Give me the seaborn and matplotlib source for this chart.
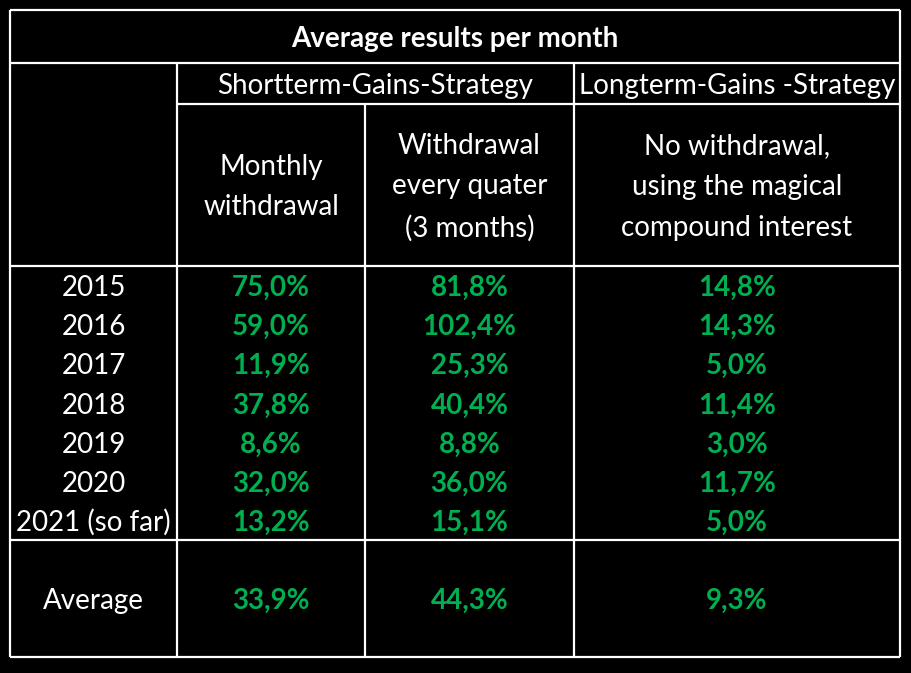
import matplotlib
matplotlib.use("Agg")
import matplotlib.pyplot as plt
import seaborn as sns

# table contents
years = ["2015", "2016", "2017", "2018", "2019", "2020", "2021 (so far)"]
monthly = [75.0, 59.0, 11.9, 37.8, 8.6, 32.0, 13.2]
quarterly = [81.8, 102.4, 25.3, 40.4, 8.8, 36.0, 15.1]
compound = [14.8, 14.3, 5.0, 11.4, 3.0, 11.7, 5.0]
averages = [33.9, 44.3, 9.3]
title = "Average results per month"
strategies = ["Shortterm-Gains-Strategy", "Longterm-Gains -Strategy"]
headers = ["Monthly\nwithdrawal", "Withdrawal\nevery quater\n(3 months)",
           "No withdrawal,\nusing the magical\ncompound interest"]

sns.set_theme(style="dark", rc={"axes.facecolor": "black", "figure.facecolor": "black"})
plt.rcParams['font.family'] = ['Lato', 'DejaVu Sans']

GREEN = "#00b050"
FS = 20
OFF = 10.5  # baseline offset below the cell middle

# grid in pixel units
cols = [10, 177, 365, 574, 900]
top, r_title, r_strat, r_head = 10, 63, 104, 266
r_data_end, bottom = 540, 657
row_h = (r_data_end - r_head) / len(years)

fig = plt.figure(figsize=(9.12, 6.73), dpi=100)
ax = fig.add_axes([0, 0, 1, 1])
ax.set_xlim(0, 912)
ax.set_ylim(673, 0)
ax.axis("off")

lw = 1.6
# outer border
ax.hlines([top, bottom], cols[0], cols[-1], color="white", lw=lw)
ax.vlines([cols[0], cols[-1]], top, bottom, color="white", lw=lw)
# horizontal rules
ax.hlines([r_title, r_head, r_data_end], cols[0], cols[-1], color="white", lw=lw)
ax.hlines(r_strat, cols[1], cols[-1], color="white", lw=lw)
# vertical rules
ax.vlines(cols[1], r_title, bottom, color="white", lw=lw)
ax.vlines(cols[3], r_title, bottom, color="white", lw=lw)
ax.vlines(cols[2], r_strat, bottom, color="white", lw=lw)

kw = dict(ha="center", va="baseline", color="white", fontsize=FS)
ax.text((cols[0] + cols[-1]) / 2, (top + r_title) / 2 + OFF, title, fontweight="bold", **kw)
ax.text((cols[1] + cols[3]) / 2, (r_title + r_strat) / 2 + OFF, strategies[0], **kw)
ax.text((cols[3] + cols[4]) / 2, (r_title + r_strat) / 2 + OFF, strategies[1], **kw)
for i, h in enumerate(headers):
    ax.text((cols[i + 1] + cols[i + 2]) / 2, (r_strat + r_head) / 2 + 2, h,
            ha="center", va="center", color="white", fontsize=FS, linespacing=1.7)

cx = [(cols[i] + cols[i + 1]) / 2 for i in range(4)]
fmt = lambda v: f"{v:.1f}%".replace(".", ",")
for j, yr in enumerate(years):
    y = r_head + row_h * (j + 0.5) + OFF
    ax.text(cx[0], y, yr, **kw)
    for k, series in enumerate([monthly, quarterly, compound]):
        ax.text(cx[k + 1], y, fmt(series[j]), ha="center", va="baseline",
                color=GREEN, fontsize=FS, fontweight="bold")

ya = (r_data_end + bottom) / 2 + OFF
ax.text(cx[0], ya, "Average", **kw)
for k, v in enumerate(averages):
    ax.text(cx[k + 1], ya, fmt(v), ha="center", va="baseline",
            color=GREEN, fontsize=FS, fontweight="bold")

fig.savefig("out.png", dpi=100, facecolor="black")
